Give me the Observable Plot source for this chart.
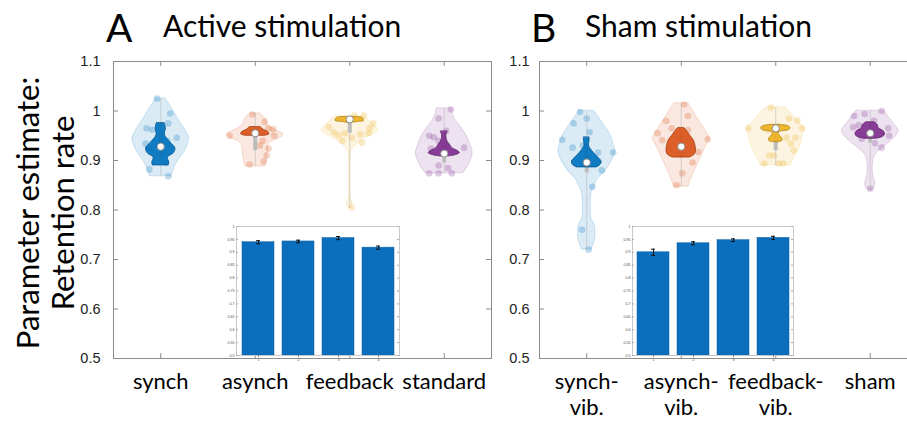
<!DOCTYPE html>
<html><head><meta charset="utf-8">
<script src="https://cdn.jsdelivr.net/npm/d3@7"></script>
<script src="https://cdn.jsdelivr.net/npm/@observablehq/plot@0.6"></script>
<style>
html,body{margin:0;padding:0;background:#fff;}
#wrap{position:relative;width:907px;height:425px;overflow:hidden;background:#fff;}
#wrap > *{position:absolute;}
</style></head><body><div id="wrap"></div>
<script>
// ---------- data ----------
const yTicks = [0.5, 0.6, 0.7, 0.8, 0.9, 1, 1.1];
const insetTicks = [0.5, 0.55, 0.6, 0.65, 0.7, 0.75, 0.8, 0.85, 0.9, 0.95, 1];
const catsA = ["synch", "asynch", "feedback", "standard"];
const catsB = ["synch-\nvib.", "asynch-\nvib.", "feedback-\nvib.", "sham"];
const colors = ["#0072BD", "#D95319", "#EDB120", "#7E2F8E"];

// outer violin profiles: [value, relative half-width]
const outerA1 = [[1.025,0.17],[1.0,0.45],[0.985,0.6],[0.971,0.76],[0.958,0.9],[0.944,1.0],[0.932,0.95],[0.92,0.86],[0.91,0.75],[0.9,0.62],[0.89,0.52],[0.88,0.45],[0.868,0.38]];
const outerA2 = [[0.995,0.17],[0.985,0.35],[0.972,0.45],[0.962,0.7],[0.953,1.0],[0.945,0.85],[0.935,0.5],[0.92,0.45],[0.9,0.4],[0.888,0.35]];
const outerA3 = [[0.989,0.53],[0.98,0.7],[0.97,0.88],[0.961,1.0],[0.952,0.8],[0.945,0.55],[0.94,0.43],[0.93,0.2],[0.92,0.06],[0.9,0.025],[0.85,0.02],[0.825,0.03],[0.815,0.1],[0.808,0.08],[0.803,0.03]];
const outerA4 = [[1.005,0.26],[0.995,0.3],[0.985,0.36],[0.97,0.55],[0.95,0.79],[0.93,0.93],[0.916,1.0],[0.9,0.93],[0.885,0.8],[0.874,0.66]];
const outerB1 = [[1.0,0.26],[0.985,0.45],[0.965,0.69],[0.95,0.85],[0.936,0.93],[0.92,1.0],[0.905,0.93],[0.89,0.8],[0.875,0.6],[0.864,0.41],[0.85,0.28],[0.835,0.17],[0.815,0.14],[0.795,0.14],[0.783,0.16],[0.77,0.28],[0.755,0.31],[0.74,0.29],[0.728,0.22],[0.72,0.17]];
const outerB2 = [[1.015,0.26],[1.0,0.42],[0.985,0.58],[0.97,0.74],[0.955,0.92],[0.944,1.0],[0.93,0.88],[0.91,0.72],[0.89,0.56],[0.876,0.45],[0.86,0.33],[0.847,0.26]];
const outerB3 = [[1.007,0.35],[0.995,0.55],[0.98,0.78],[0.965,1.0],[0.95,0.95],[0.93,0.86],[0.91,0.7],[0.9,0.6],[0.89,0.53]];
const outerB4 = [[1.0,0.5],[0.99,0.62],[0.975,0.82],[0.96,1.0],[0.95,0.92],[0.936,0.66],[0.925,0.42],[0.916,0.24],[0.905,0.13],[0.89,0.09],[0.875,0.09],[0.862,0.14],[0.852,0.18],[0.845,0.14],[0.84,0.05]];

// inner (dark) violin profiles
const innerA1 = [[0.975,0.14],[0.965,0.18],[0.951,0.15],[0.936,0.35],[0.924,0.52],[0.914,0.45],[0.906,0.25],[0.896,0.3],[0.89,0.28]];
const innerA2 = [[0.967,0.2],[0.962,0.3],[0.958,0.45],[0.953,0.5],[0.95,0.35]];
const innerA3 = [[0.988,0.1],[0.986,0.45],[0.98,0.5],[0.978,0.3],[0.976,0.05]];
const innerA4 = [[0.958,0.12],[0.952,0.08],[0.945,0.08],[0.938,0.12],[0.932,0.2],[0.925,0.28],[0.92,0.45],[0.915,0.55],[0.91,0.35],[0.908,0.1]];
const innerB1 = [[0.946,0.1],[0.94,0.1],[0.93,0.08],[0.92,0.18],[0.912,0.3],[0.905,0.42],[0.898,0.52],[0.892,0.5],[0.886,0.35]];
const innerB2 = [[0.965,0.12],[0.958,0.22],[0.95,0.32],[0.94,0.45],[0.93,0.5],[0.92,0.52],[0.912,0.48],[0.906,0.3]];
const innerB3 = [[0.972,0.15],[0.969,0.45],[0.965,0.52],[0.961,0.45],[0.958,0.15],[0.955,0.1],[0.95,0.15],[0.945,0.22],[0.94,0.24],[0.937,0.1]];
const innerB4 = [[0.977,0.15],[0.972,0.26],[0.965,0.3],[0.96,0.45],[0.955,0.52],[0.95,0.5],[0.946,0.38],[0.944,0.2]];

// individual points: [jitter offset, value]
const ptsA1 = [[-0.04,1.025],[0.10,0.995],[0.08,0.975],[-0.15,0.965],[-0.09,0.962],[0.17,0.946],[-0.16,0.934],[-0.12,0.925],[0.07,0.94],[0.03,0.915],[0.05,0.896],[-0.12,0.882],[0.08,0.868]];
const ptsA2 = [[-0.03,0.993],[-0.27,0.95],[0.10,0.978],[0.14,0.965],[0.19,0.963],[0.20,0.95],[0.08,0.94],[0.14,0.924],[0.12,0.91],[0.09,0.898],[-0.06,0.892],[0.05,0.93]];
const ptsA3 = [[0.15,0.991],[0.05,0.991],[-0.17,0.957],[-0.05,0.955],[-0.12,0.951],[0.11,0.953],[0.21,0.965],[0.02,0.946],[0.13,0.936],[-0.22,0.967],[0.25,0.975],[0.20,0.955],[-0.08,0.94],[0.02,0.805]];
const ptsA4 = [[0.07,1.003],[-0.06,0.985],[-0.16,0.95],[-0.11,0.947],[-0.06,0.94],[0.21,0.926],[-0.14,0.924],[0.0,0.935],[-0.06,0.89],[0.04,0.885],[-0.16,0.874],[-0.06,0.874],[0.08,0.874],[0.02,0.96]];
const ptsB1 = [[-0.07,0.998],[-0.14,0.975],[0.03,0.957],[-0.26,0.942],[-0.15,0.926],[-0.04,0.93],[0.28,0.916],[0.12,0.916],[0.16,0.88],[0.06,0.847],[-0.05,0.76],[0.02,0.72],[0.0,0.985]];
const ptsB2 = [[0.03,1.013],[-0.16,0.98],[0.07,0.99],[-0.25,0.955],[-0.20,0.941],[0.07,0.961],[0.28,0.943],[0.18,0.917],[0.12,0.896],[0.01,0.874],[-0.05,0.85],[-0.10,0.965]];
const ptsB3 = [[-0.05,1.007],[0.14,0.985],[0.23,0.981],[-0.29,0.965],[0.28,0.965],[-0.08,0.961],[0.11,0.946],[0.21,0.946],[0.16,0.934],[0.19,0.92],[-0.07,0.91],[-0.02,0.91],[0.08,0.894],[0.03,0.894],[-0.12,0.894]];
const ptsB4 = [[0.12,1.0],[-0.17,0.99],[-0.06,0.994],[0.04,0.98],[-0.18,0.967],[-0.12,0.971],[0.19,0.965],[0.20,0.95],[0.12,0.926],[0.0,0.843],[-0.09,0.944],[0.05,0.935]];

const mediansA = [0.928, 0.955, 0.983, 0.914];
const mediansB = [0.896, 0.928, 0.965, 0.955];
const q1A = [0.905, 0.92, 0.955, 0.895];
const q3A = [0.955, 0.962, 0.985, 0.94];
const q1B = [0.875, 0.905, 0.92, 0.935];
const q3B = [0.93, 0.955, 0.97, 0.97];

const barsA = [0.939, 0.942, 0.955, 0.918];
const errA = [0.006, 0.005, 0.006, 0.006];
const barsB = [0.90, 0.935, 0.947, 0.956];
const errB = [0.012, 0.006, 0.005, 0.006];

// ---------- drawing ----------
const wrap = document.getElementById("wrap");
const FW = 378, FH = 297, ML = 113, MT = 61, MR = 9, MB = 67;
const axisCol = "#8c8c8c";

function panel(cats, outers, inners, pts, med, q1, q3, tickPad) {
  const idx = [1, 2, 3, 4];
  const marks = [
    Plot.frame({stroke: axisCol}),
    Plot.tickY(yTicks, {y: d => d, insetRight: FW - 5, stroke: axisCol}),
    Plot.tickY(yTicks, {y: d => d, insetLeft: FW - 5, stroke: axisCol}),
    Plot.tickX(idx, {x: d => d, insetTop: FH - 5, stroke: axisCol}),
    Plot.tickX(idx, {x: d => d, insetBottom: FH - 5, stroke: axisCol}),
    Plot.axisY(yTicks, {tickSize: 0, tickPadding: tickPad, fontSize: 14.5, fontFamily: "Liberation Sans", tickFormat: d => String(d), fill: "#222"}),
    Plot.axisX(idx, {tickSize: 0, tickPadding: 12, fontSize: 22, fontFamily: "Lato", lineHeight: 1.18, tickFormat: d => cats[d - 1], fill: "#000"})
  ];
  outers.forEach((prof, i) => {
    const c = i + 1, col = colors[i];
    marks.push(Plot.areaX(prof, {y: d => d[0], x1: d => c - d[1] * 0.3, x2: d => c + d[1] * 0.3, curve: "catmull-rom", fill: col, fillOpacity: 0.14, stroke: col, strokeOpacity: 0.18, strokeWidth: 1}));
    marks.push(Plot.dot(pts[i], {x: d => c + d[0], y: d => d[1], r: 3.3, fill: col, fillOpacity: 0.25}));
    marks.push(Plot.ruleX([c], {x: d => d, y1: prof[prof.length - 1][0], y2: prof[0][0], stroke: "#b0b0b0", strokeOpacity: 0.5, strokeWidth: 1}));
    marks.push(Plot.ruleX([c], {x: d => d, y1: q1[i], y2: q3[i], stroke: "#bcbcbc", strokeWidth: 4}));
    marks.push(Plot.areaX(inners[i], {y: d => d[0], x1: d => c - d[1] * 0.3, x2: d => c + d[1] * 0.3, curve: "catmull-rom", fill: col, fillOpacity: 0.92, stroke: d3.color(col).darker(0.8).formatHex(), strokeWidth: 0.8}));
    marks.push(Plot.dot([c], {x: d => d, y: med[i], r: 3.6, fill: "white", stroke: "#8c8c8c", strokeWidth: 1}));
  });
  return Plot.plot({
    width: ML + FW + MR, height: MT + FH + MB,
    marginLeft: ML, marginTop: MT, marginRight: MR, marginBottom: MB,
    x: {domain: [0.5, 4.5]}, y: {domain: [0.5, 1.1]},
    style: {background: "transparent", overflow: "visible"},
    marks
  });
}

function inset(vals, errs, w, h) {
  const idx = [1, 2, 3, 4];
  return Plot.plot({
    width: w + 15, height: h + 10,
    marginLeft: 14, marginTop: 2, marginRight: 1, marginBottom: 8,
    x: {domain: idx, paddingInner: 0.2, paddingOuter: 0.1},
    y: {domain: [0.5, 1]},
    style: {background: "transparent", overflow: "visible"},
    marks: [
      Plot.barY(idx, {x: d => d, y1: 0.5, y2: d => vals[d - 1], fill: "#0b6fbd", stroke: "#0a5fa3", strokeWidth: 0.5}),
      Plot.ruleX(idx, {x: d => d, y1: d => vals[d - 1] - errs[d - 1], y2: d => vals[d - 1] + errs[d - 1], stroke: "#111", strokeWidth: 1}),
      Plot.tickY(idx, {x: d => d, y: d => vals[d - 1] - errs[d - 1], insetLeft: 14, insetRight: 14, stroke: "#111"}),
      Plot.tickY(idx, {x: d => d, y: d => vals[d - 1] + errs[d - 1], insetLeft: 14, insetRight: 14, stroke: "#111"}),
      Plot.frame({stroke: "#c8c8c8"}),
      Plot.tickY(insetTicks, {y: d => d, insetRight: w - 2, stroke: "#aaa"}),
      Plot.tickY(insetTicks, {y: d => d, insetLeft: w - 2, stroke: "#aaa"}),
      Plot.axisY(insetTicks, {tickSize: 0, tickPadding: 2, fontSize: 3.6, fontFamily: "Liberation Sans", tickFormat: d => String(d), fill: "#444"}),
      Plot.axisX(idx, {tickSize: 2, tickPadding: 1, fontSize: 3.6, fontFamily: "Liberation Sans", stroke: "#888", fill: "#444"})
    ]
  });
}

const pA = panel(catsA, [outerA1, outerA2, outerA3, outerA4], [innerA1, innerA2, innerA3, innerA4],
  [ptsA1, ptsA2, ptsA3, ptsA4], mediansA, q1A, q3A, 13);
pA.style.left = "0px"; pA.style.top = "0px";
wrap.appendChild(pA);

const pB = panel(catsB, [outerB1, outerB2, outerB3, outerB4], [innerB1, innerB2, innerB3, innerB4],
  [ptsB1, ptsB2, ptsB3, ptsB4], mediansB, q1B, q3B, 10);
pB.style.left = (539 - ML) + "px"; pB.style.top = "0px";
wrap.appendChild(pB);

const iA = inset(barsA, errA, 163, 129);
iA.style.left = (236 - 14) + "px"; iA.style.top = (226 - 2) + "px";
wrap.appendChild(iA);

const iB = inset(barsB, errB, 161, 129);
iB.style.left = (632 - 14) + "px"; iB.style.top = (226 - 2) + "px";
wrap.appendChild(iB);

// titles and y-axis label
const ns = "http://www.w3.org/2000/svg";
const over = document.createElementNS(ns, "svg");
over.setAttribute("width", 907); over.setAttribute("height", 425);
over.style.left = "0px"; over.style.top = "0px"; over.style.pointerEvents = "none";
function txt(s, x, y, size, extra) {
  const t = document.createElementNS(ns, "text");
  t.textContent = s;
  t.setAttribute("x", x); t.setAttribute("y", y);
  t.setAttribute("font-family", "Lato"); t.setAttribute("font-size", size);
  t.setAttribute("fill", "#000");
  if (extra) for (const k in extra) t.setAttribute(k, extra[k]);
  over.appendChild(t);
}
txt("A", 106, 42, 39);
txt("Active stimulation", 163, 37, 30);
txt("B", 531, 42, 39);
txt("Sham stimulation", 585, 37, 30);
txt("Parameter estimate:", 0, 0, 31, {"text-anchor": "middle", "dominant-baseline": "central", transform: "translate(27,213) rotate(-90)"});
txt("Retention rate", 0, 0, 31, {"text-anchor": "middle", "dominant-baseline": "central", transform: "translate(62,213) rotate(-90)"});
wrap.appendChild(over);
</script>
</body></html>
